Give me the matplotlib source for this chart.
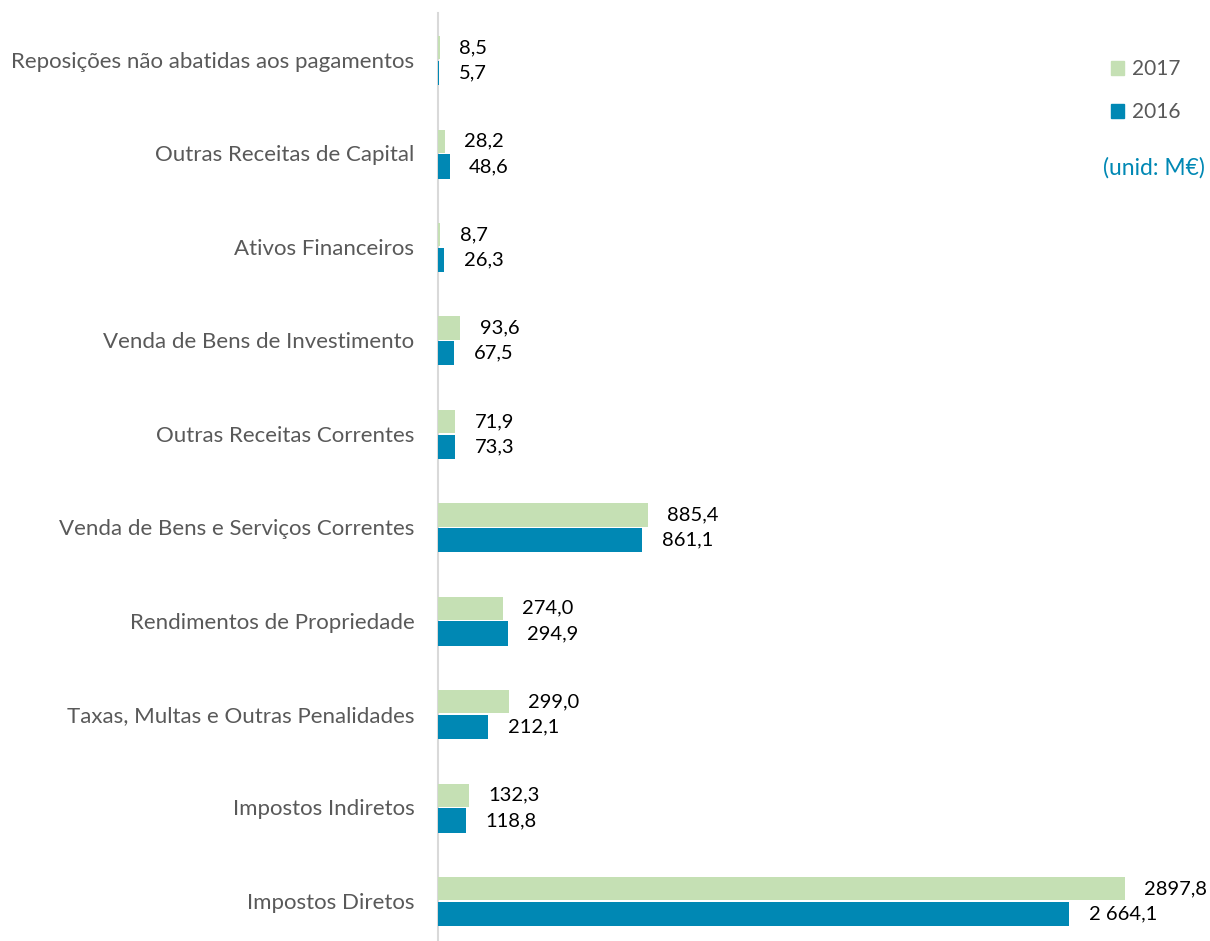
import matplotlib.pyplot as plt
from matplotlib.patches import Patch

categories = ['Impostos Diretos', 'Impostos Indiretos',
              'Taxas, Multas e Outras Penalidades', 'Rendimentos de Propriedade',
              'Venda de Bens e Serviços Correntes', 'Outras Receitas Correntes',
              'Venda de Bens de Investimento', 'Ativos Financeiros',
              'Outras Receitas de Capital',
              'Reposições não abatidas aos pagamentos']
values_2017 = [2897.8, 132.3, 299.0, 274.0, 885.4, 71.9, 93.6, 8.7, 28.2, 8.5]
values_2016 = [2664.1, 118.8, 212.1, 294.9, 861.1, 73.3, 67.5, 26.3, 48.6, 5.7]
labels_2017 = ['2897,8', '132,3', '299,0', '274,0', '885,4', '71,9', '93,6',
               '8,7', '28,2', '8,5']
labels_2016 = ['2 664,1', '118,8', '212,1', '294,9', '861,1', '73,3', '67,5',
               '26,3', '48,6', '5,7']

green = '#C5E0B4'
blue = '#0088B4'
grey_text = '#595959'

plt.rcParams['font.family'] = ['Lato', 'DejaVu Sans']

fig = plt.figure(figsize=(12.1, 9.41), dpi=100)
ax = fig.add_axes([0.362, 0.0, 0.638, 0.986])

pos = list(range(len(categories)))
ax.barh([p + 0.13 for p in pos], values_2017, 0.25, color=green, zorder=3)
ax.barh([p - 0.14 for p in pos], values_2016, 0.26, color=blue, zorder=3)

# value labels just past the bar ends
for p, v, t in zip(pos, values_2017, labels_2017):
    ax.annotate(t, (v, p + 0.13), xytext=(14, 0), textcoords='offset points',
                va='center', ha='left', fontsize=14.5, color='black')
for p, v, t in zip(pos, values_2016, labels_2016):
    ax.annotate(t, (v, p - 0.14), xytext=(14, 0), textcoords='offset points',
                va='center', ha='left', fontsize=14.5, color='black')

ax.set_xlim(0, 3257)
ax.set_ylim(-0.43, 9.5)
ax.set_yticks(pos)
ax.set_yticklabels(categories, fontsize=16, color=grey_text)
ax.tick_params(axis='y', length=0, pad=17)
ax.set_xticks([])
for side in ['top', 'right', 'bottom']:
    ax.spines[side].set_visible(False)
ax.spines['left'].set_color('#D9D9D9')
ax.spines['left'].set_linewidth(1.5)
ax.spines['left'].set_zorder(1)

handles = [Patch(color=green, label='2017'), Patch(color=blue, label='2016')]
fig.legend(handles=handles, loc='upper left', bbox_to_anchor=(0.918, 0.937),
           frameon=False, fontsize=15, labelcolor=grey_text, handlelength=0.65,
           handleheight=0.65, handletextpad=0.35, labelspacing=1.1,
           borderpad=0, borderaxespad=0)
fig.text(0.996, 0.822, '(unid: M€)', color='#0088B4', fontsize=16.5,
         ha='right', va='center')

fig.savefig('out.png', dpi=100)
